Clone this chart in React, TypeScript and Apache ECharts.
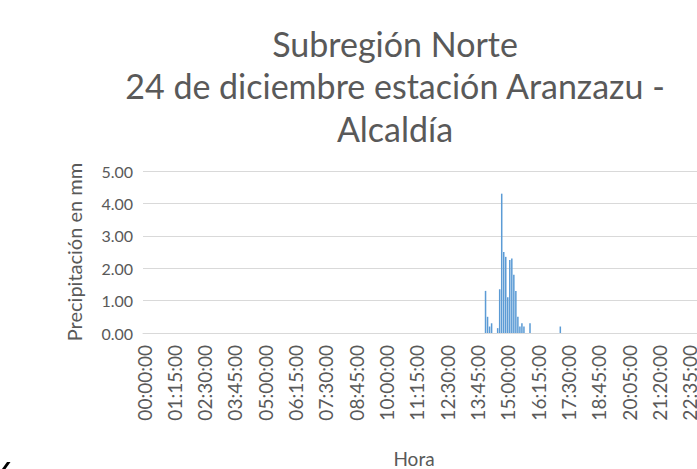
import React, { useEffect, useRef } from 'react';
import * as echarts from 'echarts';

const titleText = 'Subregión Norte\n24 de diciembre estación Aranzazu -\nAlcaldía';
const xAxisName = 'Hora';
const yAxisName = 'Precipitación en mm';

// 5-minute readings; one slot absent from the logger record (between 18:45 and 20:05)
const missingSlots = ['19:25:00'];

// non-zero rainfall readings (mm); all other slots are 0
const rainTimes = [
  '14:05:00', '14:10:00', '14:15:00', '14:20:00', '14:35:00', '14:40:00',
  '14:45:00', '14:50:00', '14:55:00', '15:00:00', '15:05:00', '15:10:00',
  '15:15:00', '15:20:00', '15:25:00', '15:30:00', '15:35:00', '15:40:00',
  '15:55:00', '17:10:00',
];
const rainValues = [
  1.3, 0.5, 0.2, 0.3, 0.15, 1.35,
  4.3, 2.5, 2.35, 1.1, 2.25, 2.3,
  1.8, 1.3, 0.5, 0.2, 0.3, 0.2,
  0.3, 0.2,
];

const pad = (n: number) => (n < 10 ? '0' + n : '' + n);
const categories: string[] = [];
for (let h = 0; h < 24; h++) {
  for (let m = 0; m < 60; m += 5) {
    const t = `${pad(h)}:${pad(m)}:00`;
    if (!missingSlots.includes(t)) categories.push(t);
  }
}
const seriesData = categories.map((t) => {
  const k = rainTimes.indexOf(t);
  return k >= 0 ? rainValues[k] : 0;
});

const FONT = 'Lato, "Open Sans", sans-serif';
const GREY = '#595959';

export default function App() {
  const ref = useRef<HTMLDivElement>(null);
  useEffect(() => {
    if (!ref.current) return;
    const chart = echarts.init(ref.current, undefined, { renderer: 'svg' });
    chart.setOption({
      animation: false,
      backgroundColor: '#ffffff',
      textStyle: { fontFamily: FONT },
      title: {
        text: titleText,
        left: 'center',
        top: 17,
        textStyle: {
          fontFamily: FONT,
          fontSize: 34,
          fontWeight: 'normal',
          color: GREY,
          lineHeight: 42.5,
        },
      },
      grid: { left: 143, top: 171, width: 580, height: 163, containLabel: false },
      xAxis: {
        type: 'category',
        data: categories,
        name: xAxisName,
        nameLocation: 'middle',
        nameGap: 116,
        nameTextStyle: { fontFamily: FONT, fontSize: 19, color: GREY, padding: [0, 38, 0, 0] },
        axisLine: { show: true, lineStyle: { color: '#D9D9D9', width: 1 } },
        axisTick: { show: false },
        axisLabel: {
          interval: 14,
          rotate: 90,
          margin: 12,
          fontFamily: FONT,
          fontSize: 19,
          color: GREY,
        },
        splitLine: { show: false },
      },
      yAxis: {
        type: 'value',
        min: 0,
        max: 5,
        interval: 1,
        name: yAxisName,
        nameLocation: 'middle',
        nameGap: 59,
        nameTextStyle: { fontFamily: FONT, fontSize: 20, color: GREY },
        axisLine: { show: false },
        axisTick: { show: false },
        axisLabel: {
          margin: 10,
          fontFamily: FONT,
          fontSize: 16,
          color: GREY,
          formatter: (v: number) => v.toFixed(2),
        },
        splitLine: { lineStyle: { color: '#D9D9D9', width: 1 } },
      },
      series: [
        {
          type: 'bar',
          data: seriesData,
          itemStyle: { color: '#5B9BD5' },
          barCategoryGap: '25%',
        },
      ],
      graphic: [
        {
          type: 'polygon',
          shape: { points: [[2, 469], [7, 462], [10.5, 462], [5.5, 469]] },
          style: { fill: '#000000' },
        },
      ],
    });
    return () => chart.dispose();
  }, []);
  return (
    <div
      style={{
        position: 'fixed',
        left: 0,
        top: 0,
        width: 697,
        height: 469,
        overflow: 'hidden',
        background: '#fff',
      }}
    >
      <div ref={ref} style={{ width: 790, height: 469 }} />
    </div>
  );
}
